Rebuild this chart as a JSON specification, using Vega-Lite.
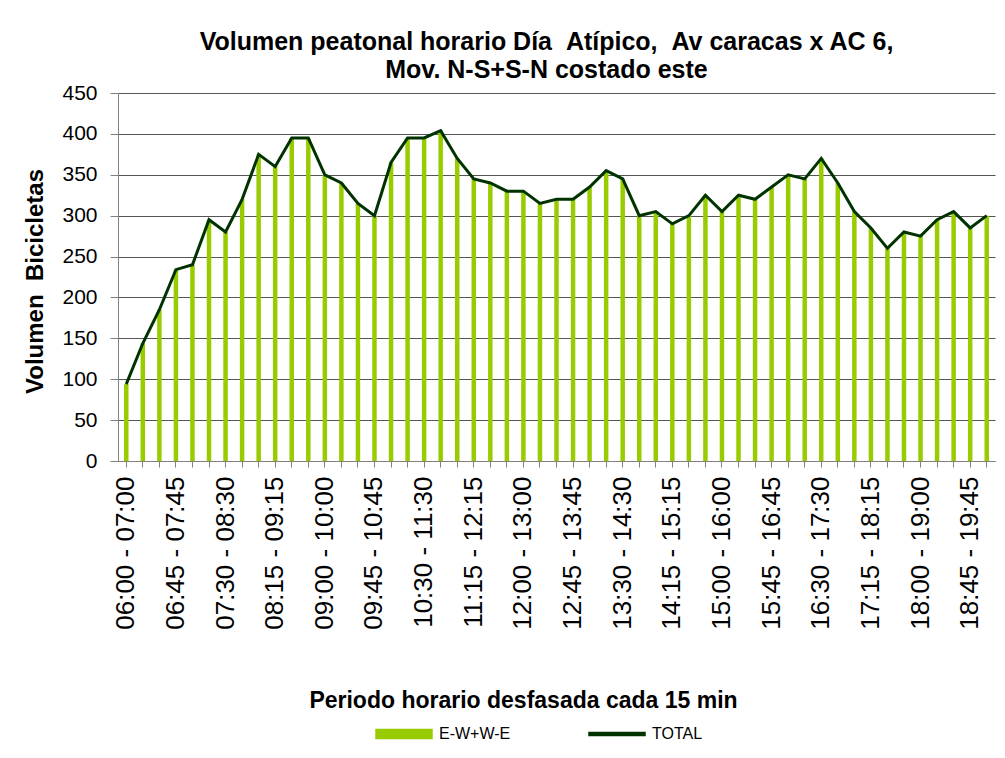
{
  "$schema": "https://vega.github.io/schema/vega-lite/v6.json",
  "width": 877,
  "height": 368,
  "autosize": {"type": "none"},
  "padding": {"left": 118, "top": 93, "right": 10, "bottom": 297},
  "background": "white",
  "config": {"font": "Liberation Sans", "view": {"stroke": null}},
  "title": {
    "text": ["Volumen peatonal horario Día\u00a0\u00a0Atípico,\u00a0\u00a0Av caracas x AC 6,", "Mov. N-S+S-N costado este"],
    "fontSize": 25,
    "fontWeight": "bold",
    "color": "black",
    "lineHeight": 28,
    "offset": -1,
    "dx": -10,
    "anchor": "middle"
  },
  "data": {
    "values": [
      {"periodo": "06:00 - 07:00", "valor": 94},
      {"periodo": "06:15 - 07:15", "valor": 144},
      {"periodo": "06:30 - 07:30", "valor": 185},
      {"periodo": "06:45 - 07:45", "valor": 234},
      {"periodo": "07:00 - 08:00", "valor": 240},
      {"periodo": "07:15 - 08:15", "valor": 295},
      {"periodo": "07:30 - 08:30", "valor": 280},
      {"periodo": "07:45 - 08:45", "valor": 320},
      {"periodo": "08:00 - 09:00", "valor": 375},
      {"periodo": "08:15 - 09:15", "valor": 360},
      {"periodo": "08:30 - 09:30", "valor": 395},
      {"periodo": "08:45 - 09:45", "valor": 395},
      {"periodo": "09:00 - 10:00", "valor": 350},
      {"periodo": "09:15 - 10:15", "valor": 340},
      {"periodo": "09:30 - 10:30", "valor": 315},
      {"periodo": "09:45 - 10:45", "valor": 300},
      {"periodo": "10:00 - 11:00", "valor": 365},
      {"periodo": "10:15 - 11:15", "valor": 395},
      {"periodo": "10:30 - 11:30", "valor": 395},
      {"periodo": "10:45 - 11:45", "valor": 404},
      {"periodo": "11:00 - 12:00", "valor": 370},
      {"periodo": "11:15 - 12:15", "valor": 345},
      {"periodo": "11:30 - 12:30", "valor": 340},
      {"periodo": "11:45 - 12:45", "valor": 330},
      {"periodo": "12:00 - 13:00", "valor": 330},
      {"periodo": "12:15 - 13:15", "valor": 315},
      {"periodo": "12:30 - 13:30", "valor": 320},
      {"periodo": "12:45 - 13:45", "valor": 320},
      {"periodo": "13:00 - 14:00", "valor": 335},
      {"periodo": "13:15 - 14:15", "valor": 355},
      {"periodo": "13:30 - 14:30", "valor": 345},
      {"periodo": "13:45 - 14:45", "valor": 300},
      {"periodo": "14:00 - 15:00", "valor": 305},
      {"periodo": "14:15 - 15:15", "valor": 290},
      {"periodo": "14:30 - 15:30", "valor": 300},
      {"periodo": "14:45 - 15:45", "valor": 325},
      {"periodo": "15:00 - 16:00", "valor": 305},
      {"periodo": "15:15 - 16:15", "valor": 325},
      {"periodo": "15:30 - 16:30", "valor": 320},
      {"periodo": "15:45 - 16:45", "valor": 335},
      {"periodo": "16:00 - 17:00", "valor": 350},
      {"periodo": "16:15 - 17:15", "valor": 345},
      {"periodo": "16:30 - 17:30", "valor": 370},
      {"periodo": "16:45 - 17:45", "valor": 340},
      {"periodo": "17:00 - 18:00", "valor": 305},
      {"periodo": "17:15 - 18:15", "valor": 285},
      {"periodo": "17:30 - 18:30", "valor": 260},
      {"periodo": "17:45 - 18:45", "valor": 280},
      {"periodo": "18:00 - 19:00", "valor": 275},
      {"periodo": "18:15 - 19:15", "valor": 295},
      {"periodo": "18:30 - 19:30", "valor": 305},
      {"periodo": "18:45 - 19:45", "valor": 285},
      {"periodo": "19:00 - 20:00", "valor": 300}
    ]
  },
  "encoding": {
    "x": {
      "field": "periodo",
      "type": "nominal",
      "sort": null,
      "scale": {"paddingInner": 0, "paddingOuter": 0},
      "axis": {
        "title": "Periodo horario desfasada cada 15 min",
        "titleFontSize": 23,
        "titleFontWeight": "bold",
        "titleColor": "black",
        "titleX": 405,
        "titleY": 246,
        "titleBaseline": "alphabetic",
        "labelAngle": -90,
        "labelFontSize": 26,
        "labelColor": "black",
        "labelPadding": 9,
        "labelOverlap": false,
        "labelExpr": "(parseInt(slice(datum.value,0,2))*60 + parseInt(slice(datum.value,3,5)) - 360) % 45 === 0 ? datum.value : ''",
        "tickSize": 6,
        "tickColor": "#808080",
        "domainColor": "#808080",
        "grid": false
      }
    },
    "y": {
      "field": "valor",
      "type": "quantitative",
      "scale": {"domain": [0, 450], "nice": false},
      "axis": {
        "title": "Volumen\u00a0\u00a0Bicicletas",
        "titleFontSize": 24,
        "titleFontWeight": "bold",
        "titleColor": "black",
        "titleX": -76,
        "titleY": 188,
        "titleBaseline": "alphabetic",
        "values": [0, 50, 100, 150, 200, 250, 300, 350, 400, 450],
        "labelFontSize": 21,
        "labelColor": "black",
        "labelPadding": 13,
        "tickSize": 8,
        "tickColor": "#808080",
        "domainColor": "#808080",
        "gridColor": "#555555",
        "gridOpacity": 1
      }
    }
  },
  "layer": [
    {
      "mark": {"type": "bar", "width": 4.5},
      "encoding": {
        "color": {
          "datum": "E-W+W-E",
          "type": "nominal",
          "scale": {"domain": ["E-W+W-E", "TOTAL"], "range": ["#99CC00", "#003300"]},
          "legend": {
            "orient": "none",
            "legendX": 257,
            "legendY": 612,
            "direction": "horizontal",
            "title": null,
            "labelFontSize": 16,
            "labelColor": "black",
            "symbolSize": 3136,
            "symbolType": "M-1,-0.16L1,-0.16L1,0.16L-1,0.16Z",
            "labelOffset": 6,
            "columnPadding": 75,
            "encode": {
              "symbols": {
                "update": {
                  "shape": {"signal": "datum.label === 'TOTAL' ? 'M-1,-0.05L1,-0.05L1,0.05L-1,0.05Z' : 'M-1,-0.16L1,-0.16L1,0.16L-1,0.16Z'"}
                }
              }
            }
          }
        }
      }
    },
    {
      "mark": {"type": "line", "strokeWidth": 3},
      "encoding": {"color": {"datum": "TOTAL", "type": "nominal"}}
    }
  ]
}
